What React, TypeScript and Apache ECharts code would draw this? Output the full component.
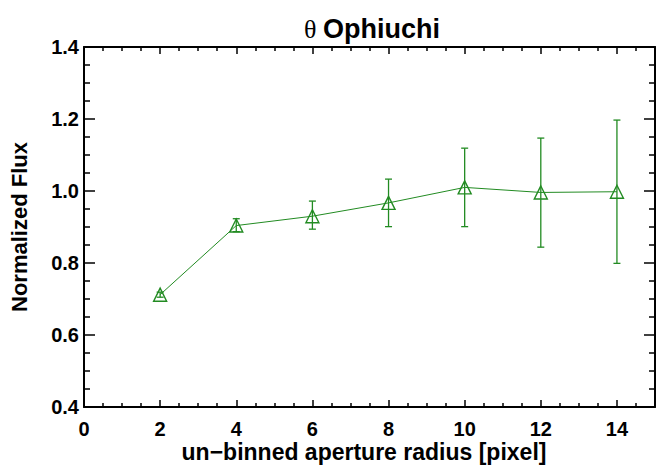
import React, { useEffect, useRef } from "react";
import * as echarts from "echarts";

const radius = [2, 4, 6, 8, 10, 12, 14];
const flux = [0.712, 0.904, 0.930, 0.967, 1.010, 0.996, 0.998];
const fluxLow = [0.705, 0.887, 0.894, 0.901, 0.901, 0.844, 0.799];
const fluxHigh = [0.719, 0.923, 0.972, 1.033, 1.119, 1.147, 1.197];

const titleText = "Ophiuchi";
const xName = "un\u2212binned aperture radius [pixel]";
const yName = "Normalized Flux";

const GREEN = "#228b22";
const FONT = "'Liberation Sans', Arial, Helvetica, sans-serif";

export default function App() {
  const ref = useRef<HTMLDivElement>(null);
  useEffect(() => {
    if (!ref.current) return;
    const chart = echarts.init(ref.current, undefined, { renderer: "svg" });
    const lineData = radius.map((x, i) => [x, flux[i]]);
    const errData = radius.map((x, i) => [x, fluxLow[i], fluxHigh[i]]);

    const baseX = {
      type: "value",
      min: 0,
      max: 15,
      interval: 2,
      splitLine: { show: false },
      axisLine: { show: true, onZero: false, lineStyle: { color: "#000", width: 2 } },
      axisTick: { show: true, inside: true, length: 7, lineStyle: { color: "#000", width: 1.5 } },
      minorTick: { show: true, splitNumber: 4, length: 4, lineStyle: { color: "#000", width: 1.5 } },
      minorSplitLine: { show: false },
    };
    const baseY = {
      type: "value",
      min: 0.4,
      max: 1.4,
      interval: 0.2,
      splitLine: { show: false },
      axisLine: { show: true, onZero: false, lineStyle: { color: "#000", width: 2 } },
      axisTick: { show: true, inside: true, length: 11, lineStyle: { color: "#000", width: 1.5 } },
      minorTick: { show: true, splitNumber: 4, length: 6, lineStyle: { color: "#000", width: 1.5 } },
      minorSplitLine: { show: false },
    };

    chart.setOption({
      animation: false,
      backgroundColor: "#fff",
      grid: { left: 84, right: 2, top: 47, bottom: 59, containLabel: false, outerBoundsMode: "none" },
      graphic: [
        {
          type: "text",
          x: 372,
          y: 29,
          style: {
            text: "{a|\u03b8}  {b|" + titleText + "}",
            align: "center",
            verticalAlign: "middle",
            rich: {
              a: { fontFamily: "'Liberation Serif', 'DejaVu Serif', serif", fontSize: 26, fill: "#000" },
              b: { fontFamily: FONT, fontWeight: "bold", fontSize: 27, fill: "#000" },
            },
          },
        },
        {
          type: "text",
          x: 364,
          y: 452,
          style: {
            text: xName,
            align: "center",
            verticalAlign: "middle",
            fontFamily: FONT,
            fontWeight: "bold",
            fontSize: 23,
            fill: "#000",
          },
        },
      ],
      xAxis: [
        {
          ...baseX,
          position: "bottom",
          axisLabel: {
            show: true,
            margin: 12,
            showMaxLabel: false,
            fontFamily: FONT,
            fontWeight: "bold",
            fontSize: 20,
            color: "#000",
            formatter: (v: number) => (v === 15 ? "" : String(v)),
          },
        },
        {
          ...baseX,
          position: "top",
          axisLabel: { show: false },
        },
      ],
      yAxis: [
        {
          ...baseY,
          position: "left",
          name: yName,
          nameLocation: "middle",
          nameGap: 54,
          nameTextStyle: { fontFamily: FONT, fontWeight: "bold", fontSize: 22, color: "#000" },
          axisLabel: {
            show: true,
            margin: 5,
            fontFamily: FONT,
            fontWeight: "bold",
            fontSize: 20,
            color: "#000",
            formatter: (v: number) => v.toFixed(1),
          },
        },
        {
          ...baseY,
          position: "right",
          axisLabel: { show: false },
        },
      ],
      series: [
        {
          type: "custom",
          xAxisIndex: 0,
          yAxisIndex: 0,
          data: errData,
          z: 3,
          renderItem: (params: any, api: any) => {
            const x = api.value(0);
            const lo = api.coord([x, api.value(1)]);
            const hi = api.coord([x, api.value(2)]);
            const cw = 3.5;
            const style = { stroke: GREEN, lineWidth: 1.3 };
            return {
              type: "group",
              children: [
                { type: "line", shape: { x1: lo[0], y1: lo[1], x2: hi[0], y2: hi[1] }, style },
                { type: "line", shape: { x1: lo[0] - cw, y1: lo[1], x2: lo[0] + cw, y2: lo[1] }, style },
                { type: "line", shape: { x1: hi[0] - cw, y1: hi[1], x2: hi[0] + cw, y2: hi[1] }, style },
              ],
            };
          },
        },
        {
          type: "line",
          xAxisIndex: 0,
          yAxisIndex: 0,
          data: lineData,
          z: 4,
          symbol: "triangle",
          symbolSize: [13, 13],
          showSymbol: true,
          lineStyle: { color: GREEN, width: 1 },
          itemStyle: { color: "rgba(0,0,0,0)", borderColor: GREEN, borderWidth: 1.4 },
          emphasis: { disabled: true },
        },
      ],
    });
    return () => chart.dispose();
  }, []);
  return <div ref={ref} style={{ width: 657, height: 466, position: "absolute", left: 0, top: 0 }} />;
}
